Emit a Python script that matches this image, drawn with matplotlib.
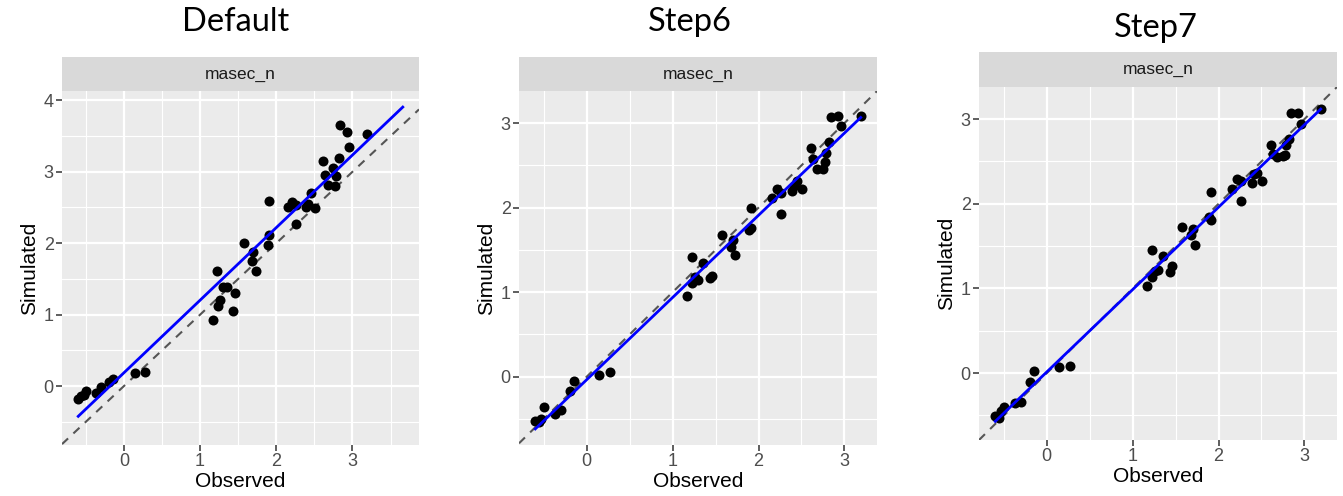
import matplotlib.pyplot as plt
import numpy as np
from matplotlib.ticker import MultipleLocator

plt.rcParams['font.family'] = ['Liberation Sans', 'DejaVu Sans']

# Observed values (same in every run)
obs = [-0.60, -0.56, -0.53, -0.50, -0.37, -0.30, -0.19, -0.15, 0.14, 0.27,
       1.17, 1.22, 1.23, 1.26, 1.30, 1.35, 1.43, 1.46, 1.57, 1.68, 1.70, 1.73,
       1.89, 1.91, 1.91, 2.16, 2.21, 2.26, 2.26, 2.39, 2.41, 2.45, 2.51, 2.61,
       2.64, 2.68, 2.75, 2.77, 2.79, 2.82, 2.84, 2.93, 2.96, 3.19]

# Simulated values for each run
sim_default = [-0.18, -0.14, -0.12, -0.07, -0.10, -0.01, 0.06, 0.10, 0.18, 0.19,
               0.93, 1.61, 1.12, 1.21, 1.39, 1.39, 1.05, 1.30, 2.00, 1.75, 1.88, 1.61,
               1.98, 2.12, 2.59, 2.51, 2.57, 2.54, 2.27, 2.50, 2.55, 2.70, 2.49, 3.15,
               2.96, 2.82, 3.05, 2.80, 2.94, 3.19, 3.66, 3.56, 3.34, 3.53]
sim_step6 = [-0.53, -0.54, -0.50, -0.36, -0.44, -0.39, -0.17, -0.05, 0.02, 0.05,
             0.96, 1.42, 1.11, 1.18, 1.14, 1.35, 1.17, 1.19, 1.68, 1.53, 1.62, 1.44,
             1.74, 2.00, 1.76, 2.11, 2.22, 2.17, 1.93, 2.20, 2.26, 2.31, 2.22, 2.71,
             2.57, 2.46, 2.46, 2.54, 2.65, 2.78, 3.07, 3.08, 2.97, 3.09]
sim_step7 = [-0.51, -0.53, -0.45, -0.40, -0.35, -0.34, -0.10, 0.02, 0.07, 0.09,
             1.03, 1.45, 1.14, 1.21, 1.22, 1.38, 1.20, 1.26, 1.73, 1.63, 1.70, 1.51,
             1.84, 2.14, 1.81, 2.18, 2.29, 2.27, 2.03, 2.25, 2.35, 2.36, 2.27, 2.70,
             2.59, 2.55, 2.56, 2.58, 2.70, 2.77, 3.07, 3.07, 2.94, 3.12]

titles = ['Default', 'Step6', 'Step7']
facet_label = 'masec_n'

W, H = 1343, 496
fig = plt.figure(figsize=(W / 100, H / 100), dpi=100)


def box(l, t, r, b):
    return [l / W, 1 - b / H, (r - l) / W, (b - t) / H]


# pixel layout: left, top, right, bottom of panel, strip top
layout = [(62, 91, 419, 445, 57), (519, 91, 877, 445, 57), (979, 87, 1337, 440, 52)]
title_pos = [(236, 22), (690, 22), (1156, 28)]

for sim, title, (l, t, r, b, st), (tx, ty) in zip(
        [sim_default, sim_step6, sim_step7], titles, layout, title_pos):
    x = np.array(obs)
    y = np.array(sim)

    # regression line over range of all values
    k, c = np.polyfit(x, y, 1)
    lx = np.array([min(x.min(), y.min()), max(x.max(), y.max())])
    ly = k * lx + c

    xlo, xhi = min(x.min(), y.min(), lx.min()), max(x.max(), y.max(), lx.max())
    ylo, yhi = min(x.min(), y.min(), ly.min()), max(x.max(), y.max(), ly.max())
    xpad, ypad = 0.05 * (xhi - xlo), 0.05 * (yhi - ylo)

    ax = fig.add_axes(box(l, t, r, b))
    ax.set_facecolor('#EBEBEB')
    ax.set_xlim(xlo - xpad, xhi + xpad)
    ax.set_ylim(ylo - ypad, yhi + ypad)
    for s in ax.spines.values():
        s.set_visible(False)
    ax.xaxis.set_major_locator(MultipleLocator(1))
    ax.yaxis.set_major_locator(MultipleLocator(1))
    ax.xaxis.set_minor_locator(MultipleLocator(0.5))
    ax.yaxis.set_minor_locator(MultipleLocator(0.5))
    ax.grid(which='major', color='white', linewidth=1.6)
    ax.grid(which='minor', color='white', linewidth=0.8)
    ax.set_axisbelow(True)
    ax.tick_params(which='major', length=4, width=1.1, color='#333333',
                   labelcolor='#4D4D4D', labelsize=13, pad=2)
    ax.tick_params(which='minor', length=0)

    # 1:1 line
    ax.axline((0, 0), slope=1, color='#555555', linestyle=(0, (4, 3.5)), linewidth=1.5)
    ax.scatter(x, y, s=52, color='black', zorder=3, linewidths=0)
    ax.plot(lx, ly, color='blue', linewidth=2, zorder=4)

    ax.set_xlabel('Observed', fontsize=15, labelpad=1)
    ax.set_ylabel('Simulated', fontsize=15, labelpad=3)

    strip = fig.add_axes(box(l, st, r, t))
    strip.set_facecolor('#D9D9D9')
    strip.set_xticks([])
    strip.set_yticks([])
    for s in strip.spines.values():
        s.set_visible(False)
    strip.text(0.5, 0.5, facet_label, ha='center', va='center', fontsize=12.5,
               color='#1A1A1A', transform=strip.transAxes)

    fig.text(tx / W, 1 - ty / H, title, ha='center', va='center', fontsize=23.5,
             family=['Lato', 'DejaVu Sans'])

fig.savefig('out.png', dpi=100)
